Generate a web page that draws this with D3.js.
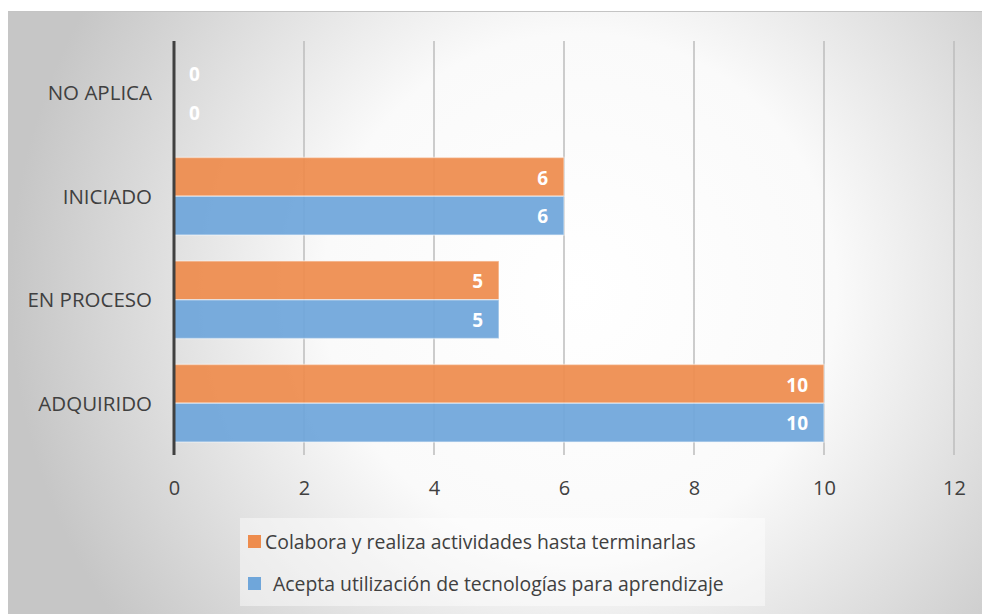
<!DOCTYPE html>
<html>
<head>
<meta charset="utf-8">
<script src="https://d3js.org/d3.v7.min.js"></script>
<style>
  html, body { margin: 0; padding: 0; background: #fff; }
  svg { display: block; }
  text { font-family: "Open Sans", "Noto Sans", sans-serif; }
</style>
</head>
<body>
<svg width="982" height="614"></svg>
<script>
// data
var categories = ["NO APLICA", "INICIADO", "EN PROCESO", "ADQUIRIDO"];
var seriesNames = ["Colabora y realiza actividades hasta terminarlas",
                   "Acepta utilización de tecnologías para aprendizaje"];
var colabora = [0, 6, 5, 10];
var acepta = [0, 6, 5, 10];
var xTicks = [0, 2, 4, 6, 8, 10, 12];
var colors = ["#ee8c4d", "#6fa6da"];

var svg = d3.select("svg");

// background panel with radial gradient
var defs = svg.append("defs");
var grad = defs.append("radialGradient")
    .attr("id", "bg")
    .attr("gradientUnits", "userSpaceOnUse")
    .attr("cx", 580).attr("cy", 290).attr("r", 570);
grad.append("stop").attr("offset", "0%").attr("stop-color", "#ffffff");
grad.append("stop").attr("offset", "45%").attr("stop-color", "#fafafa");
grad.append("stop").attr("offset", "100%").attr("stop-color", "#c6c6c6");

svg.append("rect")
    .attr("x", 8).attr("y", 11)
    .attr("width", 982 - 8).attr("height", 614 - 11)
    .attr("fill", "url(#bg)");
svg.append("line")
    .attr("x1", 8).attr("x2", 982).attr("y1", 11.5).attr("y2", 11.5)
    .attr("stroke", "#c4c4c4").attr("stroke-width", 1);

var plot = {left: 174, right: 954, top: 41, bottom: 455};

var x = d3.scaleLinear().domain([0, 12]).range([plot.left, plot.right]);
var y = d3.scaleBand().domain(categories).range([plot.top, plot.bottom]).paddingInner(0.25).paddingOuter(0.125);
var sub = d3.scaleBand().domain([0, 1]).range([0, y.bandwidth()]);

var series = [colabora, acepta];

// gridlines
svg.append("g").selectAll("line")
    .data(xTicks.slice(1))
    .join("line")
    .attr("x1", function(d) { return x(d); })
    .attr("x2", function(d) { return x(d); })
    .attr("y1", plot.top).attr("y2", plot.bottom)
    .attr("stroke", "#bdbdbd").attr("stroke-width", 1.5);

// bars
series.forEach(function(vals, si) {
  var g = svg.append("g");
  g.selectAll("rect")
    .data(vals)
    .join("rect")
    .attr("x", x(0))
    .attr("y", function(d, i) { return y(categories[i]) + sub(si); })
    .attr("width", function(d) { return x(d) - x(0); })
    .attr("height", sub.bandwidth())
    .attr("fill", colors[si])
    .attr("fill-opacity", 0.93)
    .attr("stroke", "#ffffff").attr("stroke-opacity", 0.45).attr("stroke-width", 1.5);

  g.selectAll("text")
    .data(vals)
    .join("text")
    .attr("x", function(d) { return d === 0 ? x(0) + 15 : x(d) - 16; })
    .attr("y", function(d, i) { return y(categories[i]) + sub(si) + sub.bandwidth() / 2 + 1; })
    .attr("dy", "0.36em")
    .attr("text-anchor", function(d) { return d === 0 ? "start" : "end"; })
    .attr("fill", "#ffffff")
    .attr("font-weight", "bold")
    .attr("font-size", 19)
    .text(function(d) { return d; });
});

// vertical axis line
svg.append("line")
    .attr("x1", x(0)).attr("x2", x(0))
    .attr("y1", plot.top).attr("y2", plot.bottom)
    .attr("stroke", "#404040").attr("stroke-width", 3);

// category labels
svg.append("g").selectAll("text")
    .data(categories)
    .join("text")
    .attr("x", 152)
    .attr("y", function(d) { return y(d) + y.bandwidth() / 2; })
    .attr("dy", "0.36em")
    .attr("text-anchor", "end")
    .attr("fill", "#404040")
    .attr("font-size", 20.5)
    .text(function(d) { return d; });

// x axis tick labels
var xAxis = d3.axisBottom(x).tickValues(xTicks).tickSize(0).tickPadding(0);
var ax = svg.append("g")
    .attr("transform", "translate(0," + 481 + ")")
    .call(xAxis);
ax.select(".domain").remove();
ax.selectAll("text")
    .attr("fill", "#404040")
    .attr("font-size", 20)
    .attr("font-family", "\"Open Sans\", \"Noto Sans\", sans-serif");

// legend
var legend = svg.append("g");
legend.append("rect")
    .attr("x", 240).attr("y", 518)
    .attr("width", 525).attr("height", 88)
    .attr("fill", "#ffffff").attr("fill-opacity", 0.45);

var legendRows = [{sx: 248, tx: 265, y: 542}, {sx: 248, tx: 273, y: 584}];
legendRows.forEach(function(r, i) {
  legend.append("rect")
    .attr("x", r.sx).attr("y", r.y - 7)
    .attr("width", 13).attr("height", 13)
    .attr("fill", colors[i]);
  legend.append("text")
    .attr("x", r.tx).attr("y", r.y)
    .attr("dy", "0.36em")
    .attr("fill", "#404040")
    .attr("font-size", 19.4)
    .text(seriesNames[i]);
});
</script>
</body>
</html>
